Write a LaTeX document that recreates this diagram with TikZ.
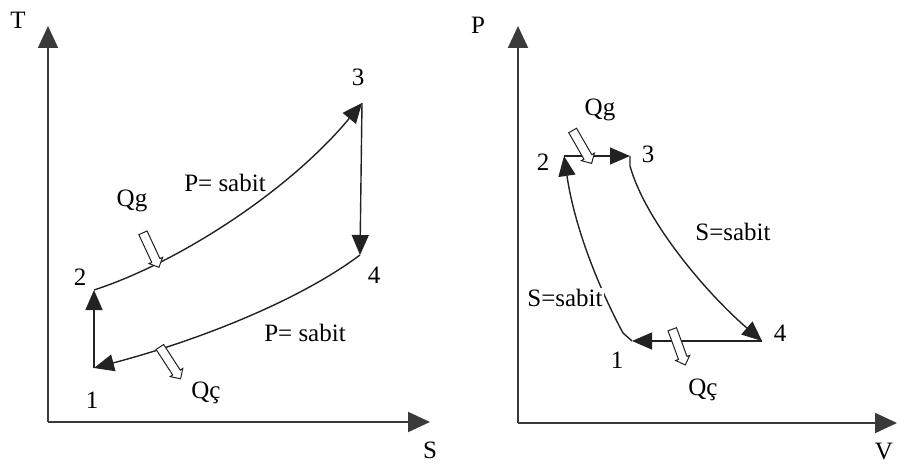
\documentclass[tikz,border=0pt]{standalone}
\usepackage{fontspec}
\setmainfont{Liberation Serif}
\usetikzlibrary{arrows.meta, shapes.arrows}
\definecolor{caxis}{HTML}{3A3A3A}
\definecolor{cline}{HTML}{222222}
\tikzset{
  every picture/.style={font=\fontsize{25}{29}\selectfont, line width=1.4pt},
  axis/.style={draw=caxis, line width=2pt, -{Triangle[length=22pt, width=20pt]}},
  proc/.style={draw=cline, line width=1.4pt, -{Triangle[length=20pt, width=17pt]}},
  lbl/.style={inner sep=1pt},
  heat/.style={single arrow, draw=cline, fill=white, line width=1pt, minimum height=38pt,
    inner sep=4pt, single arrow head extend=3pt, rotate=#1},
}

\begin{document}
\begin{tikzpicture}[x=1pt, y=-1pt]
  \useasboundingbox (0,0) rectangle (897,468);
  % T-S diagram
  \coordinate (tO) at (48,422);
  \coordinate (tTop) at (48,26);
  \coordinate (tEnd) at (430,422);
  \coordinate (t1) at (94,368);
  \coordinate (t2) at (94,290);
  \coordinate (t3) at (362,103);
  \coordinate (t4) at (360,255);
  \draw[axis] (tO) -- (tTop);
  \draw[axis] (tO) -- (tEnd);
  \node[lbl] (tT) at (18,20) {T};
  \node[lbl] (tS) at (430,450) {S};
  \draw[proc] (t1) -- (t2);
  \draw[proc] (t2) .. controls (180,262) and (290,190) .. (t3);
  \draw[proc] (t3) -- (t4);
  \draw[proc] (t4) .. controls (300,300) and (200,340) .. (t1);
  \node[lbl] (tn1) at (92,400) {1};
  \node[lbl] (tn2) at (80,277) {2};
  \node[lbl] (tn3) at (358,77) {3};
  \node[lbl] (tn4) at (374,275) {4};
  \node[lbl, fill=white] (tPup) at (225,183) {P= sabit};
  \node[lbl] (tPlo) at (305,333) {P= sabit};
  \node[lbl] (tQg) at (132,201) {Qg};
  \node[lbl] (tQc) at (206,393) {Qç};
  \node[heat=-65] (tHg) at (150,248) {};
  \node[heat=-57] (tHc) at (169,361) {};
  % P-V diagram
  \coordinate (pO) at (518,423);
  \coordinate (pTop) at (518,26);
  \coordinate (pEnd) at (897,423);
  \coordinate (p1) at (632,341);
  \coordinate (p2) at (564,156);
  \coordinate (p3) at (630,156);
  \coordinate (p4) at (762,341);
  \draw[axis] (pO) -- (pTop);
  \draw[axis] (pO) -- (pEnd);
  \node[lbl] (pP) at (478,25) {P};
  \node[lbl] (pV) at (884,452) {V};
  \draw[proc] (p2) -- (p3);
  \draw[proc] (p3) -- ++(0,10) .. controls (645,220) and (705,292) .. (p4);
  \draw[proc] (p4) -- (p1);
  \draw[proc] (p1) -- ++(-9,-8) .. controls (600,290) and (575,230) .. (p2);
  \node[lbl] (pn1) at (617,360) {1};
  \node[lbl] (pn2) at (543,162) {2};
  \node[lbl] (pn3) at (648,154) {3};
  \node[lbl] (pn4) at (780,333) {4};
  \node[lbl, fill=white] (pSr) at (733,232) {S=sabit};
  \node[lbl, fill=white] (pSl) at (565,298) {S=sabit};
  \node[lbl] (pQg) at (600,110) {Qg};
  \node[lbl] (pQc) at (703,390) {Qç};
  \node[heat=-60] (pHg) at (581,145) {};
  \node[heat=-70] (pHc) at (678,345) {};
\end{tikzpicture}
\end{document}
